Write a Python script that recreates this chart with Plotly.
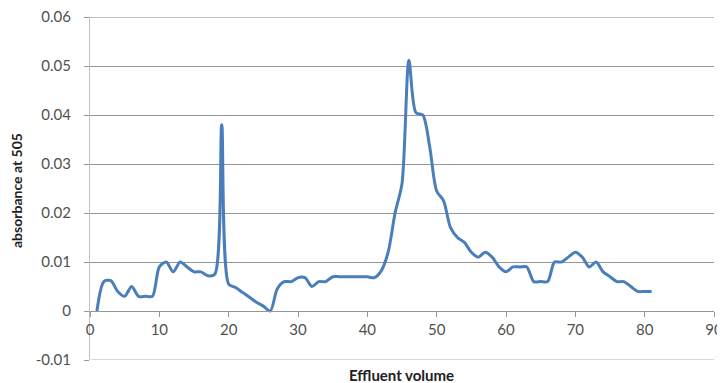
import plotly.graph_objects as go

effluent_volume = list(range(1, 82))
absorbance = [
    0.0, 0.006, 0.0062, 0.004, 0.003, 0.005, 0.003, 0.003, 0.003, 0.009,
    0.010, 0.008, 0.010, 0.009, 0.008, 0.008, 0.0072, 0.0075, 0.038, 0.0055,
    0.0048, 0.0038, 0.0028, 0.0018, 0.001, 0.0, 0.0045, 0.006, 0.006, 0.0068,
    0.0068, 0.005, 0.006, 0.006, 0.007, 0.007, 0.007, 0.007, 0.007, 0.007,
    0.0068, 0.0082, 0.012, 0.020, 0.026, 0.0512, 0.0405, 0.040, 0.0335, 0.0245,
    0.0225, 0.017, 0.015, 0.014, 0.012, 0.011, 0.012, 0.011, 0.009, 0.008,
    0.009, 0.009, 0.009, 0.006, 0.006, 0.006, 0.010, 0.010, 0.011, 0.012,
    0.011, 0.009, 0.010, 0.008, 0.007, 0.006, 0.006, 0.005, 0.004, 0.004,
    0.004,
]

y_tickvals = [-0.01, 0, 0.01, 0.02, 0.03, 0.04, 0.05, 0.06]
y_ticktext = ["-0.01", "0", "0.01", "0.02", "0.03", "0.04", "0.05", "0.06"]
x_tickvals = [0, 10, 20, 30, 40, 50, 60, 70, 80, 90]
x_ticktext = ["0", "10", "20", "30", "40", "50", "60", "70", "80", "90"]
y_min = y_tickvals[0]
y_max = y_tickvals[-1]

FONT = "Lato, Open Sans, sans-serif"
GRID = "#969696"
TICKCOLOR = "#505050"

# The page body has an 8px default margin, so the figure is sized to fit the
# 725x383 window with that offset.
fig = go.Figure()
fig.add_trace(go.Scatter(
    x=effluent_volume, y=absorbance, mode="lines",
    line=dict(color="#4a7ebb", width=3, shape="spline", smoothing=0.8),
    showlegend=False, hoverinfo="skip",
))

fig.update_layout(
    width=717, height=375,
    margin=dict(l=82, r=11, t=9, b=23),
    paper_bgcolor="white", plot_bgcolor="white",
    font=dict(family=FONT, size=15, color=TICKCOLOR),
    xaxis=dict(
        range=[0, 90.0001], tickvals=x_tickvals, ticktext=x_ticktext,
        anchor="free", position=1/7,
        showgrid=False, zeroline=False,
        showline=True, linecolor=GRID, linewidth=1,
        ticks="outside", ticklen=5, tickcolor=GRID,
        tickfont=dict(family=FONT, size=15, color=TICKCOLOR),
        automargin=False, ticklabeloverflow="allow",
    ),
    yaxis=dict(
        range=[-0.01, 0.06002], tickvals=y_tickvals, ticktext=y_ticktext,
        showgrid=True, gridcolor=GRID, gridwidth=1, zeroline=False,
        showline=True, linecolor="#c0c0c0", linewidth=1,
        ticks="outside", ticklen=5, tickcolor=GRID,
        ticklabelstandoff=10, ticklabeloverflow="allow",
        tickfont=dict(family=FONT, size=15, color=TICKCOLOR),
        automargin=False,
    ),
    shapes=[
        dict(type="line", xref="paper", yref="y", x0=0, x1=1,
             y0=y_max, y1=y_max, line=dict(color=GRID, width=1), layer="below"),
        dict(type="line", xref="paper", yref="y", x0=0.002, x1=1,
             y0=y_min, y1=y_min, line=dict(color="#d6d6d6", width=2), layer="above"),
    ],
    annotations=[
        dict(text="<b>absorbance at 505</b>", xref="paper", yref="paper",
             x=-74/624, y=(360-191)/343, textangle=-90, showarrow=False,
             xanchor="center", yanchor="middle",
             font=dict(family=FONT, size=14, color="#202020")),
        dict(text="<b>Effluent volume</b>", xref="paper", yref="paper",
             x=(401-90)/624, y=-15/343, showarrow=False,
             xanchor="center", yanchor="middle",
             font=dict(family=FONT, size=15, color="#202020")),
    ],
)

fig.write_html("out.html")
